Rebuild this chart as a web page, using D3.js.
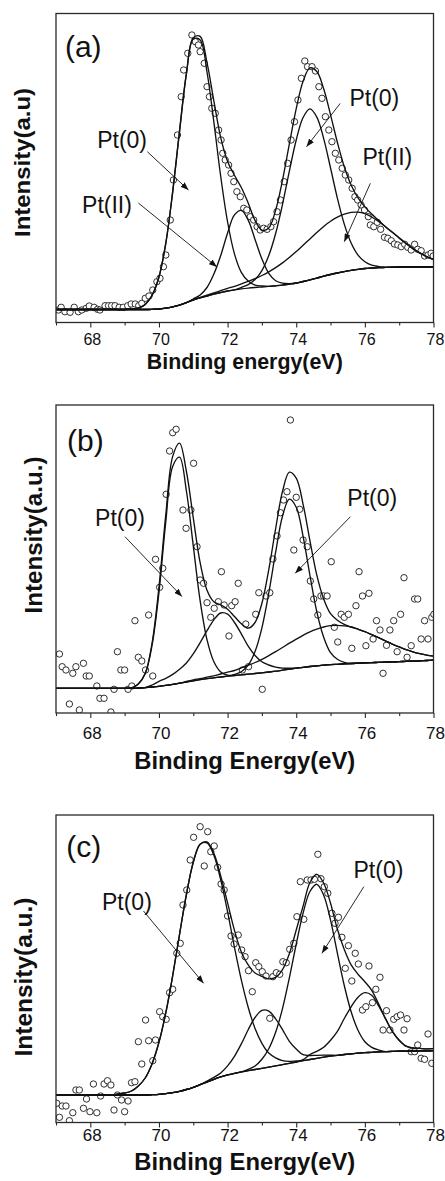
<!DOCTYPE html>
<html>
<head>
<meta charset="utf-8">
<script src="https://cdn.jsdelivr.net/npm/d3@7"></script>
<style>
  html, body { margin: 0; padding: 0; background: #fff; }
  svg { display: block; }
</style>
</head>
<body>
<svg id="chart" width="445" height="1181"></svg>
<script>
// ---------------------------------------------------------------
// Pt 4f XPS spectra of three samples, with fitted components.
// Energies in eV, intensities in arbitrary units.
// Fitted curves are sampled on a shared 0.2 eV energy grid;
// each component is stored as its height above the Shirley background.
// ---------------------------------------------------------------
const energyGrid = d3.range(56).map(i => Math.round(670 + i * 2) / 10); // 67.0 … 78.0
const majorTicks = [68, 70, 72, 74, 76, 78];
const minorTicks = [67, 69, 71, 73, 75, 77];

// ---- sample (a) ----
const aBackground = [
  13,13,13,13,13,13,13,13,13,13,
  13,13,13,13,13.2,13.5,14.4,15.7,17.4,19.8,
  22.5,24.6,26.5,28.4,30,31.5,32.6,33.6,34.4,35,
  35.5,36.1,36.7,37.4,38.4,39.5,41,42.6,44.4,46.3,
  48,49.5,50.9,52.1,53.1,54,54.5,54.9,55.1,55.3,
  55.5,55.5,55.5,55.5,55.5,55.5];
const aPt0_72 = [
  0,0,0,0,0,0,0,0,0,0,
  0,0.5,1.6,5,14,32,65,115,174,229,
  261,258,224,172,116,69,36,16.5,7,2.4,
  1,0,0,0,0,0,0,0,0,0,
  0,0,0,0,0,0,0,0,0,0,
  0,0,0,0,0,0];
const aPt2_72 = [
  0,0,0,0,0,0,0,0,0,0,
  0,0,0,0,0,0,0,0,0,0,
  1,3,8.5,20,37,58,75,78.5,68,48,
  28,13,5,2,0.5,0,0,0,0,0,
  0,0,0,0,0,0,0,0,0,0,
  0,0,0,0,0,0];
const aPt0_52 = [
  0,0,0,0,0,0,0,0,0,0,
  0,0,0,0,0,0,0,0,0,0,
  0,0,0,0,0,0,0,1.4,3.5,7.9,
  16.4,30.8,52.3,80.7,113,143,164,171,161,137.6,
  106.5,74.7,47.5,27.4,14.3,6.8,2.9,1.1,0,0,
  0,0,0,0,0,0];
const aPt2_52 = [
  0,0,0,0,0,0,0,0,0,0,
  0,0,0,0,0,0,0,0,0,0,
  0.3,0.5,0.8,1.2,1.8,2.6,3.6,5,6.7,8.8,
  11.5,14.6,18.2,22.2,26.7,31.4,36.3,41,45.6,49.8,
  53.2,55.8,57.4,58,57.2,54.8,51,46.2,40.7,34.9,
  29,23.5,18.4,14.1,10.4,7.5];
const aMeasured = [
  [67.07,12.5],[67.15,15.2],[67.26,10.8],[67.41,10.2],[67.53,15.2],[67.65,10.8],[67.75,12.5],[67.88,14.2],
  [67.97,16.5],[68.11,15.2],[68.21,13.2],[68.28,12.5],[68.43,16.8],[68.53,16.8],[68.62,16.8],[68.72,16.8],
  [68.84,15.2],[68.96,15.2],[69.09,16.8],[69.19,18.5],[69.31,18.5],[69.41,16.8],[69.50,19.2],[69.60,24.2],
  [69.71,26.5],[69.82,32.5],[69.94,40.8],[70.03,44.2],[70.13,55.8],[70.20,67.5],[70.33,102.5],[70.42,142.5],
  [70.54,187.5],[70.65,225.8],[70.72,252.5],[70.84,269.2],[70.96,287.5],[71.06,280.8],[71.15,277.5],[71.20,270.8],
  [71.32,259.2],[71.40,235.8],[71.47,225.8],[71.54,214.2],[71.64,209.2],[71.74,192.5],[71.81,182.5],[71.86,169.2],
  [71.93,162.5],[72.03,157.5],[72.10,149.2],[72.18,140.8],[72.27,130.8],[72.37,125.8],[72.47,114.2],[72.56,112.5],
  [72.66,105.8],[72.76,102.5],[72.86,95.8],[72.95,92.5],[73.05,94.2],[73.15,93.2],[73.26,95.8],[73.34,100.8],
  [73.44,110.8],[73.54,122.5],[73.65,140.8],[73.75,159.2],[73.85,182.5],[73.95,200.8],[74.05,222.5],[74.15,244.2],
  [74.25,261.5],[74.33,255.8],[74.46,255.8],[74.56,251.5],[74.66,235.8],[74.75,224.2],[74.85,205.8],[74.95,192.5],
  [75.04,180.8],[75.14,169.2],[75.24,162.5],[75.34,154.2],[75.43,147.5],[75.53,142.5],[75.63,134.2],[75.71,125.8],
  [75.79,122.5],[75.89,117.5],[75.99,112.5],[76.10,105.8],[76.16,97.5],[76.26,95.8],[76.36,100.2],[76.46,93.2],
  [76.57,85.2],[76.67,84.2],[76.77,81.8],[76.86,78.5],[76.96,77.5],[77.06,75.8],[77.16,78.2],[77.25,75.2],
  [77.35,72.5],[77.45,78.2],[77.54,73.2],[77.64,71.8],[77.74,66.5],[77.84,67.5],[77.93,69.2],[77.99,66.5]];

// ---- sample (b) ----
const bBackground = [
  24.7,24.7,24.7,24.7,24.7,24.7,24.7,24.7,24.7,24.7,
  24.7,24.7,25,25.4,26,26.7,27.6,28.6,29.8,31,
  32.2,33.3,34.3,35.2,36,36.8,37.5,38.2,38.8,39.5,
  40.2,41,41.8,42.8,43.8,44.8,45.7,46.5,47.2,47.8,
  48.3,48.7,49.1,49.5,49.8,50.1,50.4,50.6,50.9,51.1,
  51.4,51.6,51.9,52.2,52.5,52.8];
const bPt0_72 = [
  0,0,0,0,0,0,0,0,0,0,
  0,0.5,4,14,42,94,164,218,226,191,
  135,79,39,16,5,1,0,0,0,0,
  0,0,0,0,0,0,0,0,0,0,
  0,0,0,0,0,0,0,0,0,0,
  0,0,0,0,0,0];
const bPt2_72 = [
  0,0,0,0,0,0,0,0,0,0,
  0,0,0,0,2,5,7,10,14,19,
  27,37,48,58,64,62,53,41,28,18,
  11,7,4,2,1,0,0,0,0,0,
  0,0,0,0,0,0,0,0,0,0,
  0,0,0,0,0,0];
const bPt0_52 = [
  0,0,0,0,0,0,0,0,0,0,
  0,0,0,0,0,0,0,0,0,0,
  0,0,0,0,0,0,1,3,9,22,
  45,79,119,154,170,161,131,91,54,28,
  12,5,1.5,0,0,0,0,0,0,0,
  0,0,0,0,0,0];
const bPt2_52 = [
  0,0,0,0,0,0,0,0,0,0,
  0,0,0,0,0,0,0,0,0,0.5,
  1,1,1.5,2,3,4,5,7,9,11,
  13.5,16.4,19.5,22.7,26,29,32,34.7,36.7,38.2,
  39,39,38,36.5,34,31.3,28,24.7,21.2,17.8,
  14.7,11.8,9.3,7.2,5.4,4];
const bMeasured = [
  [67.10,59],[67.18,46.3],[67.29,43],[67.39,9],[67.49,39.7],[67.58,46.3],[67.68,3],[67.80,49.7],
  [67.88,37],[67.97,37],[68.19,27],[68.28,14.7],[68.40,14.7],[68.60,1],[68.69,23.7],[68.79,61.3],
  [68.89,43],[69.00,43],[69.10,23.7],[69.21,27],[69.30,92.3],[69.40,55.7],[69.50,52],[69.61,43],
  [69.70,98],[69.82,37],[69.90,153.7],[70.02,125.7],[70.11,144.7],[70.21,218.7],[70.31,262],[70.40,280.3],
  [70.50,283.7],[70.70,203],[70.79,184.7],[70.93,203],[71.01,249.7],[71.11,166.3],[71.20,133],[71.30,129.7],
  [71.40,110.3],[71.51,95.7],[71.61,104.7],[71.73,111.3],[71.82,141.3],[71.90,108],[72.04,77],[72.12,107.3],
  [72.22,111.3],[72.31,129.7],[72.43,43],[72.53,89],[72.61,46.3],[72.82,98.7],[72.91,120.3],[73.01,23.7],
  [73.12,117],[73.23,120.3],[73.32,154],[73.44,177],[73.54,200.3],[73.63,213],[73.73,221.3],[73.83,293],
  [73.93,163],[74.00,215.7],[74.10,203.7],[74.20,173],[74.32,166.3],[74.41,132],[74.51,114],[74.63,98],
  [74.72,117],[74.80,117],[74.90,117],[75.02,151.3],[75.11,85.7],[75.21,71],[75.31,98.7],[75.40,95.7],
  [75.52,98.7],[75.62,64.7],[75.74,107.3],[75.83,141.3],[75.93,117],[76.03,67.3],[76.12,119.7],[76.24,74],
  [76.34,92.3],[76.44,83],[76.53,39.7],[76.63,67.7],[76.73,83],[76.84,92.3],[76.94,61.3],[77.04,98.7],
  [77.14,135.3],[77.23,55.7],[77.35,67.3],[77.45,114],[77.54,114],[77.64,74],[77.74,92.3],[77.84,74],
  [77.95,95.7],[78.01,98.7]];

// ---- sample (c) ----
const cBackground = [
  27.5,27.5,27.5,27.5,27.5,27.5,27.5,27.5,27.5,27.5,
  27.5,27.5,27.5,27.5,27.8,28.2,28.8,29.8,31.2,33,
  35.2,37.8,40.5,43.2,45.6,47.6,49.2,50.6,51.8,53,
  54.2,55.4,56.6,57.9,59.2,60.5,61.8,63,64.2,65.3,
  66.3,67.2,68,68.7,69.3,69.8,70.2,70.6,70.9,71.1,
  71.3,71.4,71.5,71.6,71.7,71.8];
const cPt0_72 = [
  0,0,0,0,0,0,0,0,0,1,
  2,4,9,17,31,52,81,117,157,195,
  225,240.5,239,224,197,163,126,92,63.5,41,
  25,14,8,4,2,1,0,0,0,0,
  0,0,0,0,0,0,0,0,0,0,
  0,0,0,0,0,0];
const cPt2_72 = [
  0,0,0,0,0,0,0,0,0,0,
  0,0,0,0,0,0,0,0,0,0,
  0,0,1,2,4,9,17,28,41,52,
  58,56,47,35,22,13,6,4,3,2,
  1,0,0,0,0,0,0,0,0,0,
  0,0,0,0,0,0];
const cPt0_52 = [
  0,0,0,0,0,0,0,0,0,0,
  0,0,0,0,0,0,0,0,0,0,
  0,0,0,0,0,0,0,0,1.3,3.5,
  9,18.3,33.6,56,85.5,118,147.6,168,174,162,
  136,102,69,42,23,11,5,2,0,0,
  0,0,0,0,0,0];
const cPt2_52 = [
  0,0,0,0,0,0,0,0,0,0,
  0,0,0,0,0,0,0,0,0,0,
  0,0,0,0,0,0,0,0,0,0,
  0,0,0,0,0,0,1,5,7,10,
  16,24,36,47,56,60,57,46,33,20,
  11,5,3,2.5,2,2];
const cMeasured = [
  [67.02,19.2],[67.10,5.2],[67.18,16.5],[67.29,16.5],[67.39,1.8],[67.49,9.8],[67.58,32.5],[67.68,32.5],
  [67.80,14.2],[67.89,23.5],[67.99,10.8],[68.09,38.5],[68.19,9.8],[68.30,26.5],[68.40,38.5],[68.50,41.8],
  [68.60,37.5],[68.69,12.5],[68.79,27.5],[68.91,22.5],[69.00,10.8],[69.10,21.5],[69.20,39.8],[69.30,40.8],
  [69.40,80.8],[69.50,58.5],[69.61,102.5],[69.70,81.8],[69.82,61.8],[69.90,82.5],[70.02,110.8],[70.11,105.8],
  [70.21,103.2],[70.31,129.8],[70.40,133.2],[70.52,169.2],[70.62,179.2],[70.70,217.5],[70.81,232.5],[70.91,262.5],
  [71.01,285.2],[71.20,295.8],[71.32,256.5],[71.42,290.8],[71.51,270.8],[71.61,276.5],[71.71,255.2],[71.81,238.5],
  [71.90,232.5],[72.00,206.5],[72.10,186.5],[72.19,178.5],[72.31,187.5],[72.41,172.5],[72.51,165.8],[72.61,151.8],
  [72.72,130.8],[72.82,159.8],[72.91,155.8],[73.01,150.8],[73.12,146.5],[73.23,104.2],[73.32,145.8],[73.42,149.8],
  [73.52,148.2],[73.61,160.8],[73.71,159.8],[73.81,173.2],[73.93,179.2],[74.02,205.8],[74.12,240.8],[74.22,203.2],
  [74.32,242.5],[74.43,242.5],[74.53,243.2],[74.63,268.2],[74.72,243.8],[74.82,235.8],[74.92,229.2],[75.04,209.2],
  [75.13,199.2],[75.23,205.2],[75.33,185.2],[75.43,154.2],[75.52,176.8],[75.62,141.5],[75.72,169.2],[75.81,158.5],
  [75.93,112.5],[76.03,115.8],[76.12,156.5],[76.22,119.8],[76.32,133.2],[76.44,145.2],[76.53,92.5],[76.63,111.8],
  [76.73,92.5],[76.84,103.2],[76.94,105.8],[77.04,107.5],[77.14,92.5],[77.23,103.8],[77.35,70.8],[77.45,70.8],
  [77.54,77.5],[77.64,64.2],[77.74,63.2],[77.84,88.5],[77.95,59.2]];

// ---- chart text ----
const panelTags = ["(a)", "(b)", "(c)"];
const xTitles = ["Binding energy(eV)", "Binding Energy(eV)", "Binding Energy(eV)"];
const yTitles = ["Intensity(a.u)", "Intensity(a.u.)", "Intensity(a.u.)"];

// annotation anchors, in data units (eV, a.u.)
const aNotes = [
  { text: "Pt(0)",  at: [68.2, 175],   from: [69.66, 170.8], to: [70.86, 132.5] },
  { text: "Pt(II)", at: [67.76, 110],  from: [69.40, 119.5], to: [71.69, 55.5] },
  { text: "Pt(0)",  at: [75.55, 216.5], from: [75.28, 219],  to: [74.30, 175.8] },
  { text: "Pt(II)", at: [75.93, 157.5], from: [76.16, 139.2], to: [75.40, 80.8] }
];
const bNotes = [
  { text: "Pt(0)", at: [68.14, 187.5], from: [69.01, 176.3], to: [70.67, 116.5] },
  { text: "Pt(0)", at: [75.49, 207.5], from: [75.58, 196.3], to: [73.97, 139.7] }
];
const cNotes = [
  { text: "Pt(0)", at: [68.34, 212.8], from: [69.55, 211.5], to: [71.30, 139.2] },
  { text: "Pt(0)", at: [75.67, 244.5], from: [75.97, 235.8], to: [74.75, 169.2] }
];
const tagAnchors = [[67.26, 265.5], [67.32, 262.5], [67.3, 265.8]];

// ---------------------------------------------------------------
// layout
// ---------------------------------------------------------------
const FONT = "'Liberation Sans', Arial, Helvetica, sans-serif";
const plotLeft = 56, plotRight = 433.5;

const panels = [
  { background: aBackground, components: [aPt0_72, aPt2_72, aPt0_52, aPt2_52], measured: aMeasured,
    notes: aNotes, tag: panelTags[0], tagAt: tagAnchors[0],
    top: 13.5, bottom: 322.5, yMax: 309, tickPad: 6.6, tickSize: 16,
    xTitle: xTitles[0], xTitleY: 369, xTitleLen: 196, xTitleSize: 22,
    yTitle: yTitles[0], yTitleX: 29.5, yTitleY: 162.5, yTitleLen: 149, yTitleSize: 22.5 },
  { background: bBackground, components: [bPt0_72, bPt2_72, bPt0_52, bPt2_52], measured: bMeasured,
    notes: bNotes, tag: panelTags[1], tagAt: tagAnchors[1],
    top: 405, bottom: 713, yMax: 308, tickPad: 9, tickSize: 17,
    xTitle: xTitles[1], xTitleY: 769, xTitleLen: 221, xTitleSize: 23.5,
    yTitle: yTitles[1], yTitleX: 41.5, yTitleY: 535, yTitleLen: 157, yTitleSize: 23 },
  { background: cBackground, components: [cPt0_72, cPt2_72, cPt0_52, cPt2_52], measured: cMeasured,
    notes: cNotes, tag: panelTags[2], tagAt: tagAnchors[2],
    top: 815, bottom: 1122.5, yMax: 307.5, tickPad: 1.6, tickSize: 17,
    xTitle: xTitles[2], xTitleY: 1170, xTitleLen: 221, xTitleSize: 23.5,
    yTitle: yTitles[2], yTitleX: 31.5, yTitleY: 977, yTitleLen: 159, yTitleSize: 23 }
];

const svg = d3.select("#chart");
const defs = svg.append("defs");
defs.append("marker")
  .attr("id", "arrowhead")
  .attr("markerUnits", "userSpaceOnUse")
  .attr("markerWidth", 9).attr("markerHeight", 6)
  .attr("refX", 8).attr("refY", 3)
  .attr("orient", "auto")
  .append("path")
  .attr("d", "M0,0 L8,3 L0,6 Z")
  .attr("fill", "#111");

panels.forEach((p, idx) => {
  const x = d3.scaleLinear().domain([67, 78]).range([plotLeft, plotRight]);
  const y = d3.scaleLinear().domain([0, p.yMax]).range([p.bottom, p.top]);
  const g = svg.append("g");

  const clipId = "clip" + idx;
  defs.append("clipPath").attr("id", clipId)
    .append("rect")
    .attr("x", plotLeft).attr("y", p.top)
    .attr("width", plotRight - plotLeft).attr("height", p.bottom - p.top);

  // curves: background, components on background, and envelope
  const line = d3.line()
    .x(d => x(d[0])).y(d => y(d[1]))
    .curve(d3.curveCatmullRom.alpha(0.5));
  const bgSeries = energyGrid.map((e, i) => [e, p.background[i]]);
  const compSeries = p.components.map(c => energyGrid.map((e, i) => [e, p.background[i] + c[i]]));
  const envelope = energyGrid.map((e, i) => [e, p.background[i] + d3.sum(p.components, c => c[i])]);

  const plot = g.append("g").attr("clip-path", `url(#${clipId})`);

  plot.selectAll("circle.meas")
    .data(p.measured)
    .join("circle")
    .attr("class", "meas")
    .attr("cx", d => x(d[0])).attr("cy", d => y(d[1]))
    .attr("r", 3.2)
    .attr("fill", "#fff")
    .attr("stroke", "#1a1a1a")
    .attr("stroke-width", 0.9);

  plot.selectAll("path.fit")
    .data([bgSeries, ...compSeries, envelope])
    .join("path")
    .attr("class", "fit")
    .attr("d", line)
    .attr("fill", "none")
    .attr("stroke", "#111")
    .attr("stroke-width", 1.35)
    .attr("stroke-linejoin", "round");

  // frame
  g.append("rect")
    .attr("x", plotLeft).attr("y", p.top)
    .attr("width", plotRight - plotLeft).attr("height", p.bottom - p.top)
    .attr("fill", "none").attr("stroke", "#2a2a2a").attr("stroke-width", 1.3);

  // bottom axis: labelled major ticks and small minor ticks
  const major = d3.axisBottom(x).tickValues(majorTicks).tickSize(5).tickSizeOuter(0)
    .tickPadding(p.tickPad).tickFormat(d3.format("d"));
  const minor = d3.axisBottom(x).tickValues(minorTicks).tickSize(3).tickSizeOuter(0).tickFormat("");
  [major, minor].forEach(ax => {
    const ag = g.append("g").attr("transform", `translate(0,${p.bottom})`).call(ax);
    ag.select(".domain").remove();
    ag.selectAll("line").attr("stroke", "#2a2a2a").attr("stroke-width", 1.1);
    ag.selectAll("text")
      .attr("font-family", FONT).attr("font-size", p.tickSize).attr("fill", "#111")
      .attr("dx", "1.5");
  });

  // axis titles
  g.append("text")
    .attr("x", (plotLeft + plotRight) / 2).attr("y", p.xTitleY)
    .attr("text-anchor", "middle")
    .attr("font-family", FONT).attr("font-weight", "bold").attr("font-size", p.xTitleSize)
    .attr("textLength", p.xTitleLen).attr("lengthAdjust", "spacingAndGlyphs")
    .attr("fill", "#111")
    .text(p.xTitle);
  g.append("text")
    .attr("transform", `translate(${p.yTitleX},${p.yTitleY}) rotate(-90)`)
    .attr("text-anchor", "middle")
    .attr("font-family", FONT).attr("font-weight", "bold").attr("font-size", p.yTitleSize)
    .attr("textLength", p.yTitleLen).attr("lengthAdjust", "spacingAndGlyphs")
    .attr("fill", "#111")
    .text(p.yTitle);

  // panel tag
  g.append("text")
    .attr("x", x(p.tagAt[0])).attr("y", y(p.tagAt[1]))
    .attr("font-family", FONT).attr("font-size", 30).attr("fill", "#111")
    .text(p.tag);

  // component labels with arrows
  p.notes.forEach(n => {
    g.append("text")
      .attr("x", x(n.at[0])).attr("y", y(n.at[1]))
      .attr("font-family", FONT).attr("font-size", 23).attr("fill", "#111")
      .text(n.text);
    g.append("line")
      .attr("x1", x(n.from[0])).attr("y1", y(n.from[1]))
      .attr("x2", x(n.to[0])).attr("y2", y(n.to[1]))
      .attr("stroke", "#111").attr("stroke-width", 0.9)
      .attr("marker-end", "url(#arrowhead)");
  });
});
</script>
</body>
</html>
